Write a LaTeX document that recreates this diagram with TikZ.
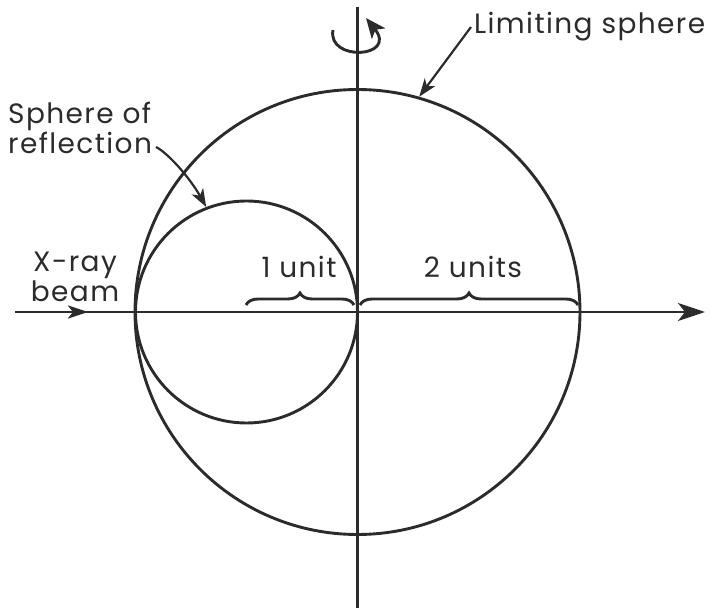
\documentclass[tikz,border=0pt]{standalone}
\usepackage{fontspec}
\setmainfont{Poppins}[LetterSpace=5]
\usetikzlibrary{arrows.meta,decorations.pathreplacing}
\definecolor{ink}{HTML}{2B2B2B}
\begin{document}
\begin{tikzpicture}[x=1pt,y=-1pt,
  ln/.style={line width=2.9pt, draw=ink},
  thin/.style={line width=2.2pt, draw=ink},
  lbl/.style={font=\fontsize{28}{30}\selectfont, text=ink, inner sep=0pt},
  bigtip/.style={-{Stealth[length=27pt,width=18pt,inset=7pt]}},
  midtip/.style={-{Stealth[length=20pt,width=13pt,inset=5pt]}},
  smalltip/.style={-{Stealth[length=18pt,width=13pt,inset=5pt]}},
  brc/.style={ln, decorate, decoration={brace, amplitude=12pt}}
]
\useasboundingbox (0,0) rectangle (721,612);
% coordinates
\coordinate (O) at (357.5,312);
\coordinate (xl) at (15,312);
\coordinate (xr) at (705,312);
\coordinate (bt) at (88,312);
\coordinate (yt) at (357.5,7);
\coordinate (yb) at (357.5,608);
% spheres
\node[circle, ln, minimum size=445pt, inner sep=0pt] (limit) at (O) {};
\node[circle, ln, minimum size=222pt, inner sep=0pt] (refl) at (246.5,312) {};
% axes
\draw[ln] (yt) -- (yb);
\draw[ln, bigtip] (xl) -- (xr);
\draw[ln, midtip] (xl) -- (bt);
% rotation arrow
\coordinate (r1) at (333,30);
\coordinate (r2) at (366,18);
\draw[ln, -{Stealth[length=20pt,width=17pt,inset=5pt]}] (r1) .. controls (327,62) and (398,58) .. (r2);
% braces
\coordinate (b1a) at (246,305);
\coordinate (b1b) at (354,305);
\coordinate (b2a) at (360,305);
\coordinate (b2b) at (578,305);
\draw[brc] (b1a) -- (b1b);
\draw[brc] (b2a) -- (b2b);
% labels
\node[lbl, anchor=base] (one) at (299,278) {1 unit};
\node[lbl, anchor=base] (two) at (473,278) {2 units};
\node[lbl, anchor=base west] (lim) at (474,34) {Limiting sphere};
\node[lbl, align=center] (xray) at (75,277) {X-ray\\beam};
\node[lbl, align=left, anchor=west] (sor) at (8,128) {Sphere of\\reflection};
% leaders
\coordinate (lstart) at (471,27);
\draw[thin, smalltip] (lstart) -- (limit.74);
\coordinate (sstart) at (156,147);
\draw[thin, smalltip] (sstart) .. controls (168,153) and (190,178) .. (refl.111);
\end{tikzpicture}
\end{document}
